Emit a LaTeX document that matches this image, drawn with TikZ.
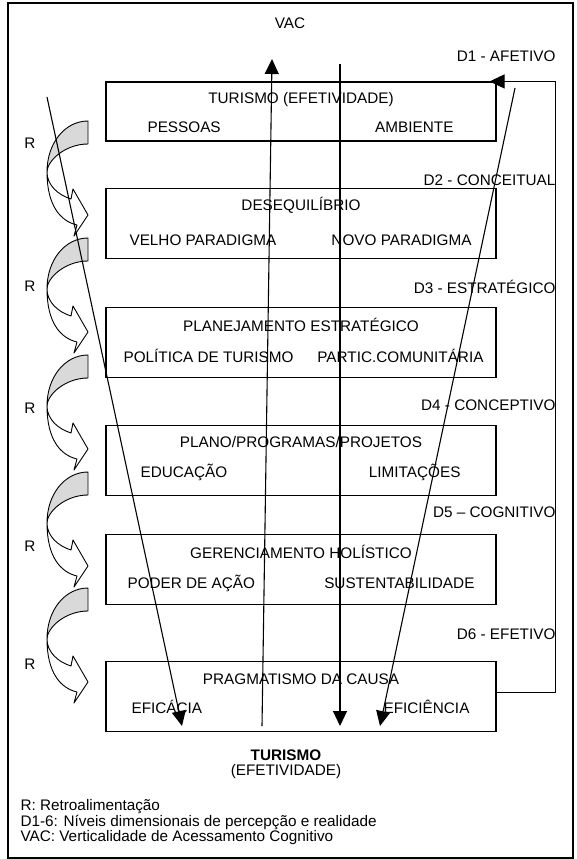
\documentclass[tikz,border=0pt]{standalone}
\usepackage{fontspec}
\setmainfont{Liberation Sans}
\usetikzlibrary{arrows.meta,positioning}
\definecolor{backgray}{RGB}{217,217,217}

\begin{document}
\begin{tikzpicture}[x=1pt,y=-1pt,node distance=48pt,>={Triangle[length=15pt,width=14pt]},line width=1.1pt,inner sep=0pt,font=\fontsize{15.3}{15}\selectfont]

	\tikzstyle{level}=[rectangle,draw=black,minimum width=390pt,minimum height=70pt]
	\tikzstyle{dim}=[anchor=east]
	\tikzstyle{sub}=[anchor=west]
	\tikzstyle{subr}=[anchor=east]
	\tikzstyle{legend}=[anchor=west]
	\tikzstyle{ribbon}=[draw=black,line width=0.9pt,line join=round]

	\useasboundingbox (0,0) rectangle (576,859);
	\draw (8,3) rectangle (573,858);

	\foreach \y in {121,238,355,472,588} {
		\filldraw [ribbon,fill=backgray] (88,\y) .. controls (65,\y) and (47,\y+22) .. (47,\y+51)
			.. controls (47,\y+40) and (65,\y+23) .. (88,\y+23) -- cycle;
		\filldraw [ribbon,fill=white] (47,\y+51) .. controls (47,\y+64) and (58,\y+74) .. (71,\y+78)
			-- (73,\y+68) -- (88,\y+94) -- (74,\y+115) -- (77,\y+104)
			.. controls (60,\y+100) and (47,\y+84) .. (47,\y+51) -- cycle;
	}

	\node [level,minimum height=59pt] (b1) at (301,111.5) {};
	\node [level] (b2) [below=46pt of b1] {};
	\node [level] (b3) [below=of b2] {};
	\node [level] (b4) [below=47pt of b3] {};
	\node [level] (b5) [below=38pt of b4] {};
	\node [level] (b6) [below=56pt of b5] {};

	\node (t1) at ([yshift=-18pt]b1.north) {TURISMO (EFETIVIDADE)};
	\node (t2) at ([yshift=-18pt]b2.north) {DESEQUILÍBRIO};
	\node (t3) at ([yshift=-18pt]b3.north) {PLANEJAMENTO ESTRATÉGICO};
	\node (t4) at ([yshift=-17pt]b4.north) {PLANO/PROGRAMAS/PROJETOS};
	\node (t5) at ([yshift=-18pt]b5.north) {GERENCIAMENTO HOLÍSTICO};
	\node (t6) at ([yshift=-18pt]b6.north) {PRAGMATISMO DA CAUSA};

	\node [sub] (p1) at (147,127) {PESSOAS};
	\node [subr] (a1) at (454,127) {AMBIENTE};
	\node [sub] (p2) at (129,240) {VELHO PARADIGMA};
	\node [subr] (a2) at (472,240) {NOVO PARADIGMA};
	\node [sub] (p3) at (123,356) {POLÍTICA DE TURISMO};
	\node [subr] (a3) at (484,356) {PARTIC.COMUNITÁRIA};
	\node [sub] (p4) at (140,472) {EDUCAÇÃO};
	\node [subr] (a4) at (461,472) {LIMITAÇÕES};
	\node [sub] (p5) at (127,583) {PODER DE AÇÃO};
	\node [subr] (a5) at (475,583) {SUSTENTABILIDADE};
	\node [sub] (p6) at (131,707) {EFICÁCIA};
	\node [subr] (a6) at (470,707) {EFICIÊNCIA};

	\node [dim] (d1) at (556,56) {D1 - AFETIVO};
	\node [dim] (d2) at (556,180) {D2 - CONCEITUAL};
	\node [dim] (d3) at (556,287) {D3 - ESTRATÉGICO};
	\node [dim] (d4) at (556,405) {D4 - CONCEPTIVO};
	\node [dim] (d5) at (556,512) {D5 – COGNITIVO};
	\node [dim] (d6) at (556,634) {D6 - EFETIVO};

	\node (r1) at (30,143) {R};
	\node (r2) at (30,286) {R};
	\node (r3) at (30,408) {R};
	\node (r4) at (30,546) {R};
	\node (r5) at (30,664) {R};

	\node (vac) at (290,23) {VAC};
	\node [font=\fontsize{15.3}{15}\selectfont\bfseries] (tur) at (286,755) {TURISMO};
	\node (efe) at (286,772) {(EFETIVIDADE)};

	\node [legend] (l1) at (20,807) {R: Retroalimentação};
	\node [legend] (l2) at (20,822) {D1-6: Níveis dimensionais de percepção e realidade};
	\node [legend] (l3) at (20,837.5) {VAC: Verticalidade de Acessamento Cognitivo};

	\coordinate (s1) at (47,97);
	\coordinate (e1) at (182,726);
	\coordinate (s2) at (262,726);
	\coordinate (e2) at (272,59);
	\coordinate (s3) at (340,64);
	\coordinate (e3) at (340,726);
	\coordinate (s4) at (515,88);
	\coordinate (e4) at (380,726);

	\draw [->] (s1) -- (e1);
	\draw [->] (s2) -- (e2);
	\draw [->] (s3) -- (e3);
	\draw [->] (s4) -- (e4);

	\draw [->] ([yshift=4pt]b6.east) -- ++(59,0) |- ([xshift=-7pt]b1.north east);

\end{tikzpicture}
\end{document}
